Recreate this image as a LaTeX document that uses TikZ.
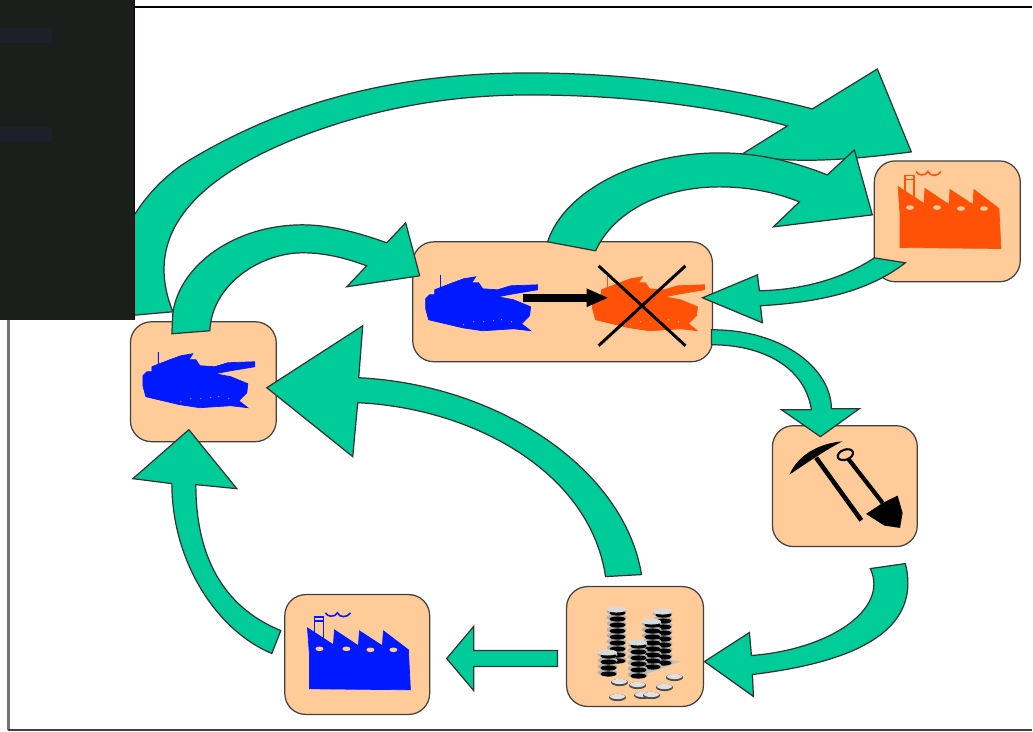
\documentclass[tikz,border=0pt]{standalone}
\usetikzlibrary{arrows.meta}

\definecolor{boxpeach}{HTML}{FFCC99}
\definecolor{flowgreen}{HTML}{00CC99}
\definecolor{unitblue}{HTML}{0019FF}
\definecolor{unitred}{HTML}{FF5208}
\definecolor{panelblack}{HTML}{1B1F1B}
\definecolor{panelbar}{HTML}{1E2029}

\begin{document}
\begin{tikzpicture}[
x=0.02cm, y=-0.02cm,
stagebox/.style={rectangle, rounded corners=0.42cm, draw=black!75, fill=boxpeach, line width=0.7pt, inner sep=0pt},
flow/.style={draw=black!80, fill=flowgreen, line width=0.7pt, line join=miter},
tankicon/.pic={
    \fill[pic actions] (0,24) -- (4,20) -- (9,20) -- (9,15) -- (27,8) -- (38,4) -- (50,2) -- (46,8) -- (53,8) -- (57,14) -- (72,15) -- (85,11) -- (112,10) -- (112,15) -- (88,19) -- (72,22) -- (88,25) -- (105,32) -- (104,41) -- (96,49) -- (105,56) -- (88,54) -- (57,56) -- (37,53) -- (3,45) -- (0,34) -- cycle;
    \draw[pic actions, line width=0.4pt] (15,0) -- (15,14);
    \foreach \dx/\dy in {38/50, 48/47, 58/47, 68/46, 76/45, 86/47}
        \fill[boxpeach] (\dx,\dy) circle [radius=0.6];
},
factoryicon/.pic={
    \fill[pic actions] (1,15) -- (27,32) -- (28,17) -- (52,33) -- (53,18) -- (76,33) -- (77,18) -- (102,37) -- (104,77) -- (3,76) -- (3,42) -- cycle;
    \draw[pic actions, fill=none, line width=0.9pt] (8,26) -- (8,4) -- (17,4) -- (17,28) (8,8) -- (17,8);
    \draw[pic actions, fill=none, line width=0.9pt] (19,0) .. controls (21,4) and (28,5) .. (31,0) .. controls (33,5) and (41,5) .. (44,0);
    \foreach \wx/\wy in {13/36, 40/36, 64/37, 87/37}
        \fill[boxpeach] (\wx,\wy) ellipse [x radius=4, y radius=2.3];
},
]

    % boxes
    \node [stagebox, minimum width=2.92cm, minimum height=2.4cm] (tankbox) at (203.5,382) {};
    \node [stagebox, minimum width=6cm, minimum height=2.4cm] (battlebox) at (563,302) {};
    \node [stagebox, minimum width=2.92cm, minimum height=2.42cm] (redfactory) at (948,221.5) {};
    \node [stagebox, minimum width=2.9cm, minimum height=2.42cm] (toolbox) at (845.5,486.5) {};
    \node [stagebox, minimum width=2.74cm, minimum height=2.4cm] (coinbox) at (635.5,647) {};
    \node [stagebox, minimum width=2.9cm, minimum height=2.4cm] (bluefactory) at (357.5,655) {};

    % free ends of the flows
    \coordinate (tailA) at (173,312);
    \coordinate (tipA) at (912,152);
    \coordinate (tailB) at (548,242);
    \coordinate (tipB) at (873,215);
    \coordinate (tailC) at (172,334);
    \coordinate (tipC) at (420,276);
    \coordinate (tailD) at (906,263);
    \coordinate (tipD) at (703,298);
    \coordinate (tailE) at (712,330);
    \coordinate (tipE) at (821,437);
    \coordinate (tailF) at (906,564);
    \coordinate (tipF) at (705,662);
    \coordinate (tailG) at (606,577);
    \coordinate (tipG) at (267,388);
    \coordinate (tailH) at (272,654);
    \coordinate (tipH) at (189,430);
    \coordinate (tailI) at (558,651);
    \coordinate (tipI) at (447,659);

    % top flow, runs under the panel
    \draw [flow] (tailA) .. controls (150,255) and (165,190) .. (300,137) .. controls (370,110) and (445,95) .. (530,95) .. controls (620,95) and (710,105) .. (788,126) -- (743,154) .. controls (790,165) and (850,160) .. (tipA) -- (878,69) -- (813,109) .. controls (720,85) and (625,73) .. (530,73) .. controls (400,73) and (290,100) .. (190,160) .. controls (140,190) and (105,250) .. (105,318) -- cycle;

    \draw [flow] (tailB) .. controls (565,190) and (640,153) .. (720,153) .. controls (760,153) and (795,162) .. (828,175) -- (855,150) -- (tipB) -- (774,227) -- (800,202) .. controls (775,192) and (748,187) .. (720,187) .. controls (665,187) and (615,210) .. (596,251) -- cycle;

    \draw [flow] (tailC) -- (173,313) .. controls (180,265) and (235,225) .. (303,225) .. controls (332,225) and (362,234) .. (387,243) -- (406,223) -- (tipC) -- (347,287) -- (367,266) .. controls (345,258) and (325,253) .. (303,253) .. controls (260,253) and (212,285) .. (210,331) -- cycle;

    \draw [flow] (tailD) .. controls (865,295) and (810,303) .. (761,306) -- (763,323) -- (tipD) -- (758,275) -- (760,291) .. controls (805,290) and (845,278) .. (875,258) -- cycle;

    \draw [flow] (tailE) .. controls (785,330) and (832,370) .. (832,409) -- (860,409) -- (tipE) -- (782,410) -- (812,410) .. controls (805,365) and (760,345) .. (712,345) -- cycle;

    \draw [flow] (tailF) .. controls (925,640) and (835,665) .. (753,675) -- (754,697) -- (tipF) -- (750,633) -- (752,656) .. controls (830,650) and (890,610) .. (871,569) -- cycle;

    \draw [flow] (tailG) .. controls (590,470) and (470,408) .. (358,403) -- (353,457) -- (tipG) -- (363,326) -- (359,378) .. controls (500,385) and (625,470) .. (642,575) -- cycle;

    \draw [flow] (tailH) .. controls (215,630) and (172,560) .. (172,484) -- (133,479) -- (tipH) -- (237,489) -- (196,485) .. controls (196,555) and (222,607) .. (281,631) -- cycle;

    \draw [flow] (tailI) -- (474,651) -- (474,627) -- (tipI) -- (474,691) -- (474,667) -- (558,667) -- cycle;

    % dark panel
    \fill [panelblack] (0,0) rectangle (134,320);
    \fill [black] (134,0) rectangle (135,320);
    \fill [panelbar] (0,28) rectangle (52,43);
    \fill [panelbar] (0,127) rectangle (52,142);

    % frame
    \draw [black, line width=0.6pt] (135,7) -- (1033,7);
    \draw [black!55, line width=1.2pt] (8.5,320) -- (8.5,731);
    \draw [black!75, line width=0.9pt] (8.5,730.5) -- (1033,730.5);

    % units
    \pic [fill=unitblue, draw=unitblue] at (143,352) {tankicon};
    \pic [fill=unitblue, draw=unitblue] at (426,275) {tankicon};
    \pic [fill=unitred, draw=unitred] at (593,275) {tankicon};
    \pic [fill=unitred, draw=unitred] at (897.7,171.7) {factoryicon};
    \pic [fill=unitblue, draw=unitblue] at (306.7,613.3) {factoryicon};

    % attack and cross
    \coordinate (attackfrom) at (523,298);
    \coordinate (attackto) at (609,298);
    \draw [-{Triangle[length=4.4mm,width=3.4mm]}, line width=1.6mm] (attackfrom) -- (attackto);
    \draw [line width=1.7pt] (599,266) -- (686,346);
    \draw [line width=1.7pt] (686,266) -- (599,346);

    % pick and shovel
    \fill (790,475) .. controls (800,452) and (825,443) .. (843,441.7) .. controls (825,451) and (805,465) .. (790,475) -- cycle;
    \draw [line width=2.6pt] (816.7,458) -- (862,520.7);
    \draw [line width=2.4pt] (848,458) -- (883.3,503.3);
    \draw [line width=1.2pt, fill=boxpeach, rotate around={20:(846,455)}] (846,455) ellipse [x radius=8, y radius=5];
    \fill (866.7,514.3) -- (883.3,503.3) -- (898.3,496) -- (903.3,513.3) -- (900.7,528.3) -- (885,526) -- cycle;

    % coins
    \fill [black!25] (655,658) -- (681,662) -- (632,680) -- cycle;
    \foreach \cx/\ctop/\cbot in {663/612/660, 652/622/668, 617/610/658, 638/643/674, 608/653/674} {
        \foreach \cy in {\cbot,...,\ctop} {
            \pgfmathtruncatemacro{\cyy}{mod(\cy-\ctop,6)}
            \ifnum\cyy=0
                \fill [black!30] (\cx,\cy+2) ellipse [x radius=10, y radius=3.4];
                \fill [black] (\cx+1,\cy+3.5) ellipse [x radius=8, y radius=2.6];
            \fi
        }
        \fill [black!15] (\cx,\ctop) ellipse [x radius=9.5, y radius=3];
    }
    \foreach \cx/\cy in {675/677, 620/682, 638/685, 665/687, 618/697, 643/695, 652/695} {
        \fill [black!70] (\cx,\cy+1) ellipse [x radius=8.5, y radius=3.6];
        \fill [black!12] (\cx,\cy) ellipse [x radius=7.5, y radius=2.6];
    }

\end{tikzpicture}
\end{document}
